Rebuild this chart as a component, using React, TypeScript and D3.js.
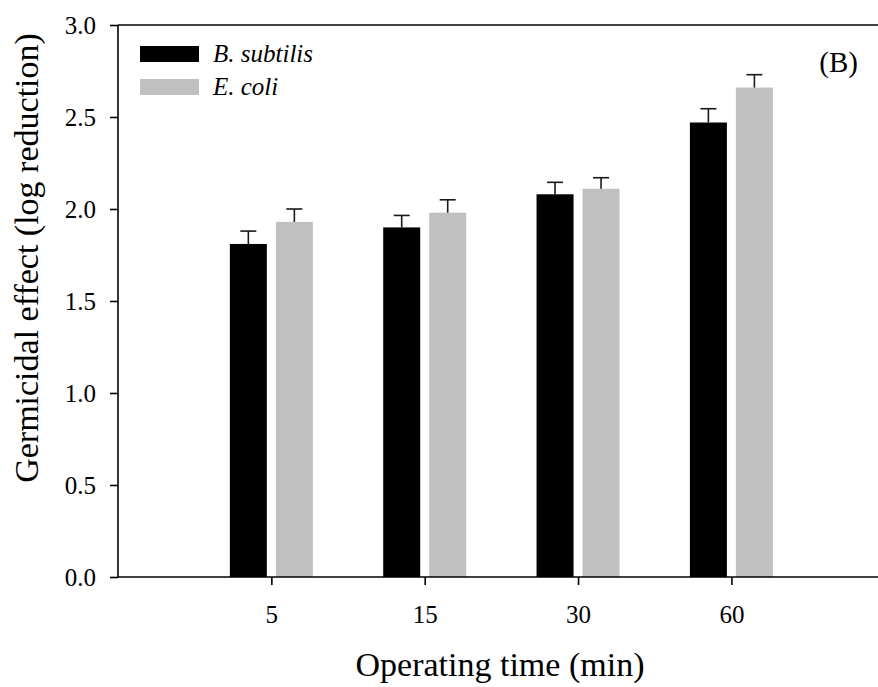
import React, { useEffect, useRef } from "react";
import * as d3 from "d3";

const times = ["5", "15", "30", "60"];
const bSubtilis = [1.81, 1.9, 2.08, 2.47];
const bSubtilisErr = [0.07, 0.065, 0.065, 0.075];
const eColi = [1.93, 1.98, 2.11, 2.66];
const eColiErr = [0.07, 0.07, 0.06, 0.07];
const yTicks = [0, 0.5, 1, 1.5, 2, 2.5, 3];

const series = [
    { name: "B. subtilis", values: bSubtilis, errs: bSubtilisErr, color: "#000000", side: -1 },
    { name: "E. coli", values: eColi, errs: eColiErr, color: "#c0c0c0", side: 1 },
];

const W = 878, H = 687;
const left = 118, right = 878, top = 25, bottom = 577;
const font = "'Liberation Serif', 'Times New Roman', serif";

export default function App() {
    const ref = useRef<SVGSVGElement>(null);

    useEffect(() => {
        const svg = d3.select(ref.current);
        svg.selectAll("*").remove();

        // categories sit at index 0..3, axis runs a bit past them on the right
        const x = d3.scaleLinear().domain([-1, 3.956]).range([left, right]);
        const y = d3.scaleLinear().domain([0, 3]).range([bottom, top]);
        const barW = 37, gap = 4.5, capW = 16;

        const bars = svg.append("g");
        series.forEach(s => {
            const g = bars.append("g");
            const cx = (i: number) => x(i) + s.side * (gap + barW / 2);
            g.selectAll("rect")
                .data(s.values)
                .join("rect")
                .attr("x", (d, i) => cx(i) - barW / 2)
                .attr("y", d => y(d))
                .attr("width", barW)
                .attr("height", d => y(0) - y(d))
                .attr("fill", s.color);

            const err = g.append("g")
                .attr("stroke", "#1a1a1a")
                .attr("stroke-width", 1.6)
                .selectAll("g")
                .data(s.values)
                .join("g");
            err.append("line")
                .attr("x1", (d, i) => cx(i)).attr("x2", (d, i) => cx(i))
                .attr("y1", d => y(d)).attr("y2", (d, i) => y(d + s.errs[i]));
            err.append("line")
                .attr("x1", (d, i) => cx(i) - capW / 2).attr("x2", (d, i) => cx(i) + capW / 2)
                .attr("y1", (d, i) => y(d + s.errs[i])).attr("y2", (d, i) => y(d + s.errs[i]));
        });

        // frame: left axis, bottom axis, top line
        const frame = svg.append("g").attr("stroke", "#000").attr("stroke-width", 1.6);
        frame.append("line").attr("x1", left).attr("x2", left).attr("y1", top).attr("y2", bottom);
        frame.append("line").attr("x1", left).attr("x2", right).attr("y1", bottom).attr("y2", bottom);
        frame.append("line").attr("x1", left).attr("x2", right).attr("y1", top).attr("y2", top);

        const yAxis = svg.append("g")
            .attr("transform", `translate(${left},0)`)
            .attr("font-family", null)
            .call(d3.axisLeft(y).tickValues(yTicks).tickFormat(d3.format(".1f")).tickSize(8).tickPadding(14));
        yAxis.select(".domain").remove();
        yAxis.selectAll("line").attr("stroke-width", 1.6);
        yAxis.selectAll("text").attr("font-family", font).attr("font-size", 25).attr("fill", "#000");

        const xAxis = svg.append("g")
            .attr("transform", `translate(0,${bottom})`)
            .call(d3.axisBottom(x).tickValues([0, 1, 2, 3]).tickFormat((d, i) => times[i]).tickSize(8).tickPadding(20));
        xAxis.select(".domain").remove();
        xAxis.selectAll("line").attr("stroke-width", 1.6);
        xAxis.selectAll("text").attr("font-family", font).attr("font-size", 25).attr("fill", "#000");

        svg.append("text")
            .attr("x", 500)
            .attr("y", 676)
            .attr("text-anchor", "middle")
            .attr("font-family", font)
            .attr("font-size", 34)
            .text("Operating time (min)");

        svg.append("text")
            .attr("transform", `translate(38,${(top + bottom) / 2 - 43}) rotate(-90)`)
            .attr("text-anchor", "middle")
            .attr("font-family", font)
            .attr("font-size", 34)
            .text("Germicidal effect (log reduction)");

        svg.append("text")
            .attr("x", 858)
            .attr("y", 72)
            .attr("text-anchor", "end")
            .attr("font-family", font)
            .attr("font-size", 29)
            .text("(B)");

        const legend = svg.append("g")
            .selectAll("g")
            .data(series)
            .join("g")
            .attr("transform", (d, i) => `translate(140,${46 + i * 33})`);
        legend.append("rect").attr("width", 59).attr("height", 16).attr("fill", d => d.color);
        legend.append("text")
            .attr("x", 73)
            .attr("y", 16)
            .attr("font-family", font)
            .attr("font-style", "italic")
            .attr("font-size", 25)
            .text(d => d.name);
    }, []);

    return <svg ref={ref} width={W} height={H} style={{ position: "absolute", left: 0, top: 0, background: "#fff" }} />;
}
